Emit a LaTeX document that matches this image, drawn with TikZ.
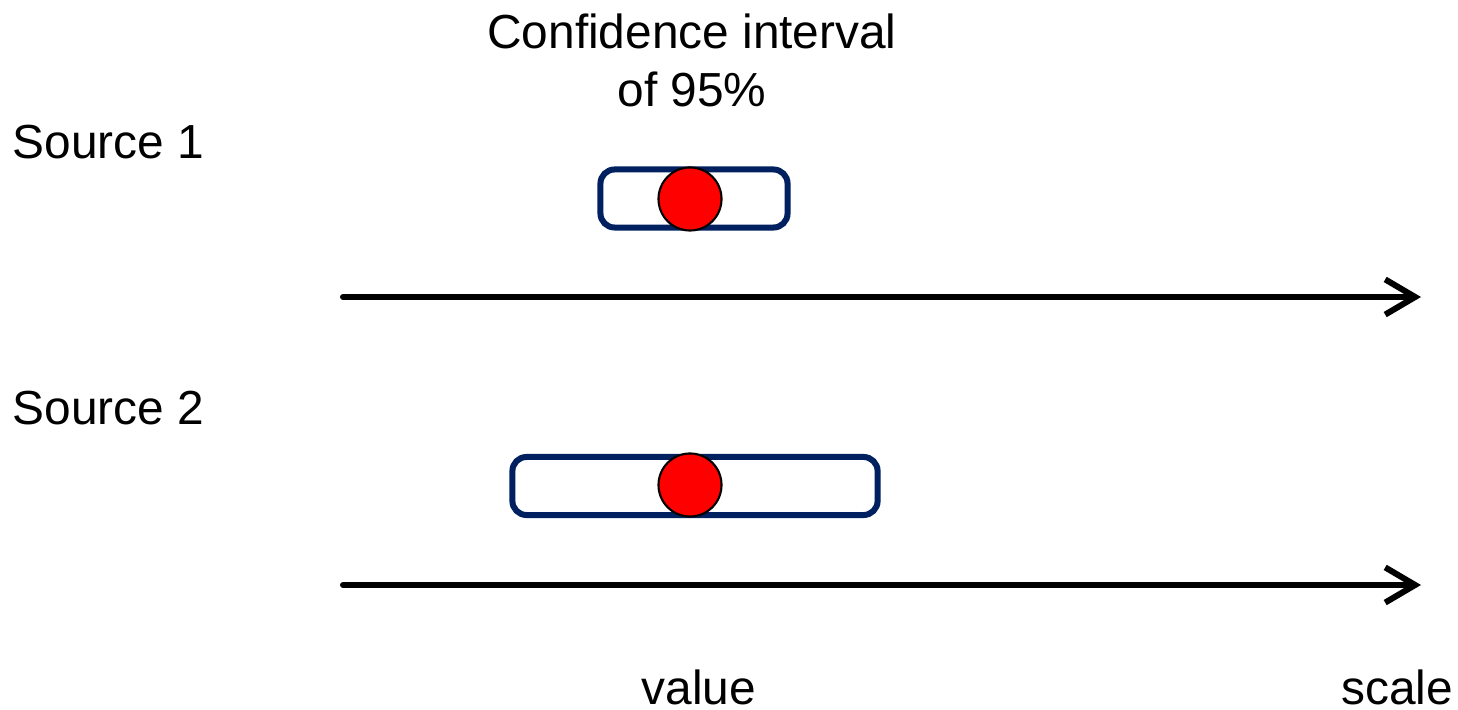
\documentclass[tikz,border=0pt]{standalone}
\usepackage{fontspec}
\setmainfont{Liberation Sans}
\usetikzlibrary{arrows.meta,positioning}
\definecolor{cinavy}{RGB}{0,32,96}

\begin{document}
\begin{tikzpicture}[
  x=0.01cm, y=-0.01cm,
  font=\fontsize{13.6}{16.3}\selectfont,
  label/.style={inner sep=0pt},
  cibox/.style={draw=cinavy, fill=white, line width=0.06cm, rounded corners=4pt, minimum height=0.58cm, inner sep=0pt},
  estim/.style={circle, draw=black, fill=red, line width=0.6pt, minimum size=0.63cm, inner sep=0pt},
  axis/.style={-{Straight Barb[length=8.5pt,width=10pt]}, line width=0.06cm, line cap=round, line join=round}
]
\useasboundingbox (0,0) rectangle (1458,710);
% titles
\node[label, align=center] (title) at (692,60.5) {Confidence interval\\of 95\%};
\node[label, anchor=base west] (src1) at (12,159) {Source 1};
\node[label, anchor=base west] (src2) at (12,425) {Source 2};
\node[label, anchor=base] (val) at (699,704) {value};
\node[label, anchor=base] (scl) at (1397,704) {scale};
% intervals
\node[cibox, minimum width=1.87cm] (ci1) at (694,198.5) {};
\node[estim] (pt1) at (690,199) {};
\node[cibox, minimum width=3.65cm] (ci2) at (695,486) {};
\node[estim] (pt2) at (690,485) {};
% axes
\coordinate (ax1s) at (343,297);
\coordinate (ax1e) at (1421,297);
\coordinate (ax2s) at (343,585);
\coordinate (ax2e) at (1421,585);
\draw[axis] (ax1s) -- (ax1e);
\draw[axis] (ax2s) -- (ax2e);
\end{tikzpicture}
\end{document}
